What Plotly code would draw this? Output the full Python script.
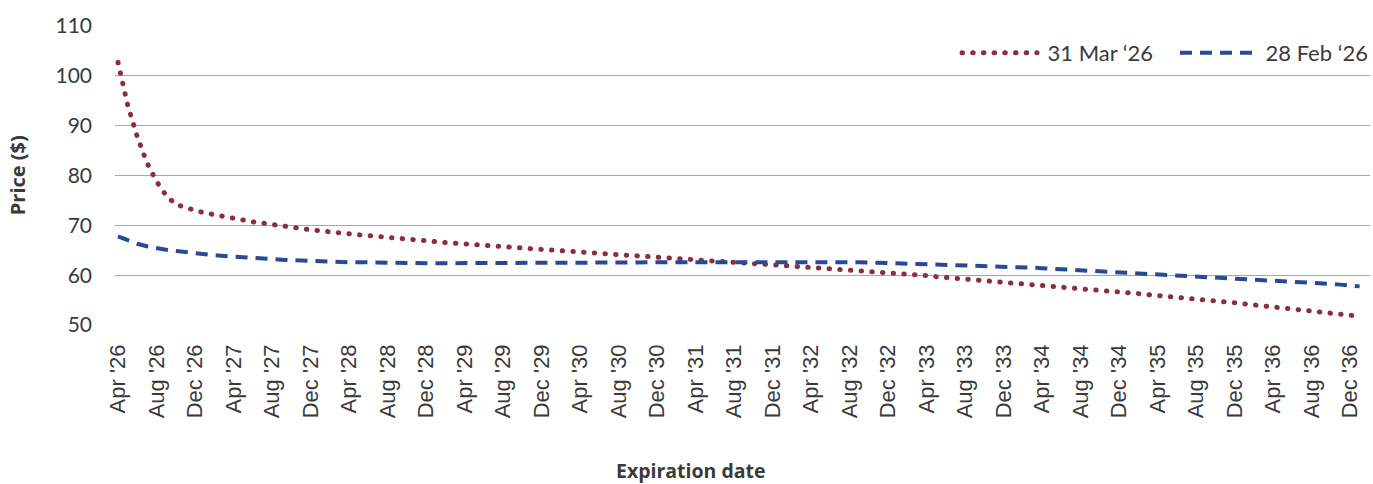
import pandas as pd
import plotly.graph_objects as go

# Expiration months (monthly contracts, Apr 2026 - Jan 2037)
expiry = pd.date_range("2026-04-01", periods=130, freq="MS")
months = [d.strftime("%b '%y") for d in expiry]

# Tick labels: every 4th month
tick_labels = months[0:129:4]

series_names = ["31 Mar \u201826", "28 Feb \u201826"]

price_mar31 = [
    102.7, 94.2, 87.8, 82.6, 78.8, 76.0, 74.2, 73.5, 73.0, 72.5,
    72.1, 71.7, 71.35, 71.05, 70.7, 70.45, 70.15, 69.9, 69.6, 69.35,
    69.1, 68.9, 68.65, 68.45, 68.3, 68.1, 67.95, 67.75, 67.6, 67.4,
    67.2, 67.05, 66.85, 66.7, 66.55, 66.4, 66.3, 66.15, 66.0, 65.85,
    65.7, 65.6, 65.45, 65.3, 65.2, 65.05, 64.9, 64.75, 64.6, 64.5,
    64.4, 64.25, 64.15, 64.0, 63.9, 63.75, 63.6, 63.45, 63.35, 63.25,
    63.1, 62.95, 62.85, 62.75, 62.6, 62.45, 62.35, 62.2, 62.05, 61.95,
    61.8, 61.7, 61.55, 61.4, 61.25, 61.15, 61.0, 60.85, 60.75, 60.6,
    60.45, 60.35, 60.2, 60.05, 59.9, 59.7, 59.55, 59.35, 59.2, 59.05,
    58.9, 58.75, 58.6, 58.45, 58.3, 58.15, 57.95, 57.75, 57.6, 57.45,
    57.3, 57.1, 56.95, 56.8, 56.65, 56.5, 56.3, 56.1, 55.95, 55.75,
    55.55, 55.4, 55.2, 55.05, 54.85, 54.65, 54.45, 54.25, 54.05, 53.85,
    53.65, 53.45, 53.3, 53.1, 52.9, 52.65, 52.45, 52.2, 52.0, 51.75,
]

price_feb28 = [
    67.8, 66.95, 66.3, 65.8, 65.4, 65.1, 64.85, 64.6, 64.4, 64.2,
    64.0, 63.85, 63.7, 63.55, 63.4, 63.3, 63.2, 63.1, 63.0, 62.9,
    62.8, 62.75, 62.7, 62.65, 62.6, 62.6, 62.55, 62.55, 62.5, 62.5,
    62.45, 62.45, 62.4, 62.4, 62.4, 62.35, 62.35, 62.35, 62.35, 62.35,
    62.35, 62.35, 62.35, 62.35, 62.35, 62.4, 62.4, 62.4, 62.4, 62.45,
    62.45, 62.5, 62.5, 62.55, 62.55, 62.6, 62.6, 62.65, 62.65, 62.7,
    62.7, 62.75, 62.75, 62.8, 62.8, 62.8, 62.8, 62.8, 62.8, 62.8,
    62.75, 62.75, 62.7, 62.7, 62.65, 62.65, 62.6, 62.6, 62.55, 62.5,
    62.45, 62.4, 62.35, 62.3, 62.25, 62.2, 62.15, 62.1, 62.05, 61.95,
    61.9, 61.8, 61.75, 61.65, 61.55, 61.5, 61.4, 61.3, 61.25, 61.15,
    61.05, 60.95, 60.85, 60.75, 60.65, 60.55, 60.45, 60.35, 60.25, 60.15,
    60.05, 59.9, 59.8, 59.7, 59.6, 59.45, 59.35, 59.2, 59.1, 59.0,
    58.9, 58.8, 58.7, 58.6, 58.5, 58.4, 58.25, 58.1, 57.95, 57.75,
]

y_ticks = [50, 60, 70, 80, 90, 100, 110]

RED = "rgb(139,46,66)"
BLUE = "rgb(43,72,148)"
TXT = "#3a3a3a"

GAP = "\u2005"
fig = go.Figure()
fig.add_trace(go.Scatter(
    x=months, y=price_mar31, name=GAP + series_names[0] + "\u00a0\u00a0\u00a0",
    mode="lines",
    line=dict(color=RED, width=5, dash="0.5px,10.2px"),
))
fig.add_trace(go.Scatter(
    x=months, y=price_feb28, name=GAP + series_names[1], mode="lines",
    line=dict(color=BLUE, width=4, dash="12px,8px"),
))

fig.update_layout(
    width=1373, height=484,
    margin=dict(l=115, r=3, t=26, b=159, autoexpand=False),
    paper_bgcolor="white", plot_bgcolor="white",
    showlegend=True,
    legend=dict(
        orientation="h", xref="container", x=1.0, xanchor="right",
        y=0.91, yanchor="middle",
        font=dict(family="Lato", size=22, color=TXT),
        itemwidth=75, bgcolor="rgba(0,0,0,0)",
    ),
    xaxis=dict(
        type="category", range=[-0.31, 130.08],
        tickmode="array", tickvals=tick_labels, ticktext=tick_labels,
        tickangle=-90, showgrid=False, showline=False, zeroline=False,
        ticks="", ticklabelstandoff=14,
        tickfont=dict(family="Liberation Sans", size=22, color=TXT),
    ),
    yaxis=dict(
        range=[50, 110], tickvals=y_ticks, showgrid=True,
        gridcolor="#a6a6a6", gridwidth=1.3, zeroline=False, showline=False,
        ticks="", ticklabelstandoff=22,
        tickfont=dict(family="Lato", size=21, color=TXT),
    ),
    annotations=[
        dict(text="<b>Price ($)</b>", xref="paper", yref="paper",
             x=-0.0775, y=0.5, textangle=-90, showarrow=False,
             xanchor="center", yanchor="middle",
             font=dict(family="Open Sans", size=20, color=TXT)),
        dict(text="<b>Expiration date</b>", xref="paper", yref="paper",
             x=0.459, y=-0.487, showarrow=False,
             xanchor="center", yanchor="middle",
             font=dict(family="Open Sans", size=19.5, color=TXT)),
    ],
)

post = """
document.documentElement.style.margin = '0';
document.body.style.margin = '0';
document.body.style.overflow = 'hidden';
document.querySelectorAll('path').forEach(function(p){
  var d = p.style.strokeDasharray || p.getAttribute('stroke-dasharray') || '';
  if (d.indexOf('10.2') >= 0) { p.style.strokeLinecap = 'round'; }
});
"""

fig.write_html("out.html", post_script=post, config={"displayModeBar": False})
